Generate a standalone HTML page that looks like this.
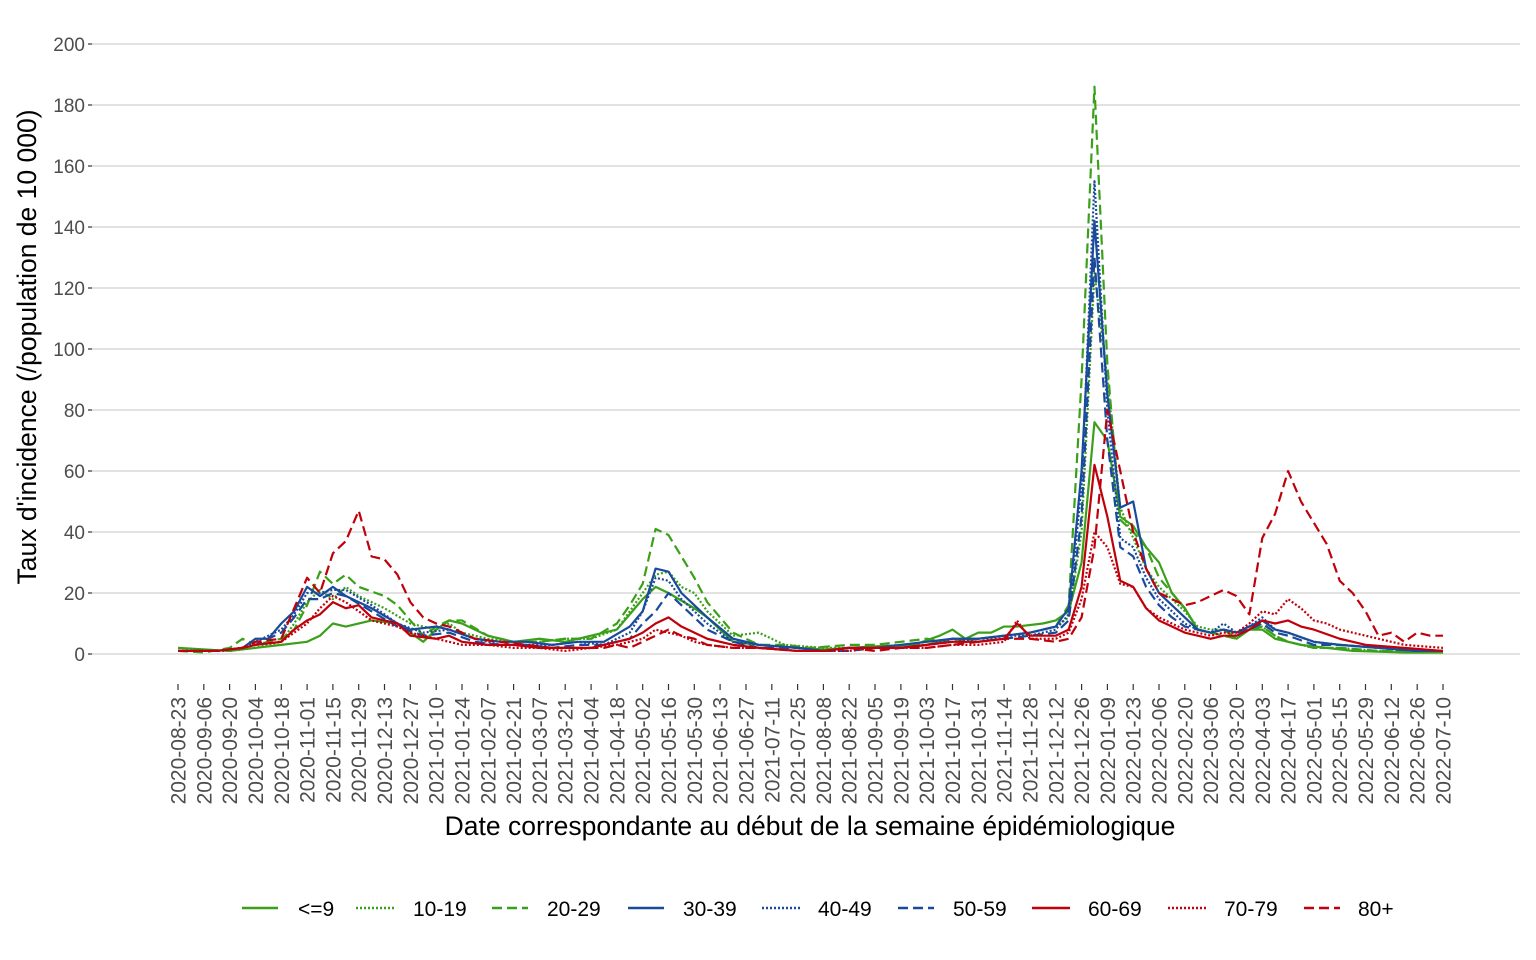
<!DOCTYPE html>
<html><head><meta charset="utf-8"><style>
html,body{margin:0;padding:0;background:#fff;}
svg{display:block;font-family:"Liberation Sans",Arial,sans-serif;}
</style></head><body>
<svg width="1536" height="960" viewBox="0 0 1536 960" xmlns="http://www.w3.org/2000/svg">
<g stroke="#d0d0d0" stroke-width="1.2">
<line x1="92" x2="1520" y1="654" y2="654"/><line x1="92" x2="1520" y1="593" y2="593"/>
<line x1="92" x2="1520" y1="532" y2="532"/><line x1="92" x2="1520" y1="471" y2="471"/>
<line x1="92" x2="1520" y1="410" y2="410"/><line x1="92" x2="1520" y1="349" y2="349"/>
<line x1="92" x2="1520" y1="288" y2="288"/><line x1="92" x2="1520" y1="227" y2="227"/>
<line x1="92" x2="1520" y1="166" y2="166"/><line x1="92" x2="1520" y1="105" y2="105"/>
<line x1="92" x2="1520" y1="44" y2="44"/>
</g>
<g fill="#4d4d4d" font-size="19" text-anchor="end">
<text x="85" y="661">0</text><text x="85" y="600">20</text><text x="85" y="539">40</text>
<text x="85" y="478">60</text><text x="85" y="417">80</text><text x="85" y="356">100</text>
<text x="85" y="295">120</text><text x="85" y="234">140</text><text x="85" y="173">160</text>
<text x="85" y="112">180</text><text x="85" y="51">200</text>
</g>
<g stroke="#333" stroke-width="1.2">
<line x1="88" x2="92" y1="654" y2="654"/><line x1="88" x2="92" y1="593" y2="593"/><line x1="88" x2="92" y1="532" y2="532"/><line x1="88" x2="92" y1="471" y2="471"/><line x1="88" x2="92" y1="410" y2="410"/><line x1="88" x2="92" y1="349" y2="349"/><line x1="88" x2="92" y1="288" y2="288"/><line x1="88" x2="92" y1="227" y2="227"/><line x1="88" x2="92" y1="166" y2="166"/><line x1="88" x2="92" y1="105" y2="105"/><line x1="88" x2="92" y1="44" y2="44"/>
</g>
<g transform="translate(178,0)" stroke="#333" stroke-width="1.2">
<path d="M0,684v6M25.8,684v6M51.6,684v6M77.4,684v6M103.3,684v6M129.1,684v6M154.9,684v6M180.7,684v6M206.5,684v6M232.3,684v6M258.2,684v6M284,684v6M309.8,684v6M335.6,684v6M361.4,684v6M387.2,684v6M413.1,684v6M438.9,684v6M464.7,684v6M490.5,684v6M516.3,684v6M542.1,684v6M568,684v6M593.8,684v6M619.6,684v6M645.4,684v6M671.2,684v6M697,684v6M722.9,684v6M748.7,684v6M774.5,684v6M800.3,684v6M826.1,684v6M851.9,684v6M877.8,684v6M903.6,684v6M929.4,684v6M955.2,684v6M981,684v6M1006.8,684v6M1032.6,684v6M1058.5,684v6M1084.3,684v6M1110.1,684v6M1135.9,684v6M1161.7,684v6M1187.5,684v6M1213.3,684v6M1239.2,684v6M1265,684v6"/>
</g>
<g fill="#4d4d4d" font-size="21" text-anchor="end">
<text transform="translate(185.5,697) rotate(-90)">2020-08-23</text>
<text transform="translate(211.3,697) rotate(-90)">2020-09-06</text>
<text transform="translate(237.1,697) rotate(-90)">2020-09-20</text>
<text transform="translate(262.9,697) rotate(-90)">2020-10-04</text>
<text transform="translate(288.8,697) rotate(-90)">2020-10-18</text>
<text transform="translate(314.6,697) rotate(-90)">2020-11-01</text>
<text transform="translate(340.4,697) rotate(-90)">2020-11-15</text>
<text transform="translate(366.2,697) rotate(-90)">2020-11-29</text>
<text transform="translate(392,697) rotate(-90)">2020-12-13</text>
<text transform="translate(417.8,697) rotate(-90)">2020-12-27</text>
<text transform="translate(443.7,697) rotate(-90)">2021-01-10</text>
<text transform="translate(469.5,697) rotate(-90)">2021-01-24</text>
<text transform="translate(495.3,697) rotate(-90)">2021-02-07</text>
<text transform="translate(521.1,697) rotate(-90)">2021-02-21</text>
<text transform="translate(546.9,697) rotate(-90)">2021-03-07</text>
<text transform="translate(572.7,697) rotate(-90)">2021-03-21</text>
<text transform="translate(598.6,697) rotate(-90)">2021-04-04</text>
<text transform="translate(624.4,697) rotate(-90)">2021-04-18</text>
<text transform="translate(650.2,697) rotate(-90)">2021-05-02</text>
<text transform="translate(676,697) rotate(-90)">2021-05-16</text>
<text transform="translate(701.8,697) rotate(-90)">2021-05-30</text>
<text transform="translate(727.6,697) rotate(-90)">2021-06-13</text>
<text transform="translate(753.5,697) rotate(-90)">2021-06-27</text>
<text transform="translate(779.3,697) rotate(-90)">2021-07-11</text>
<text transform="translate(805.1,697) rotate(-90)">2021-07-25</text>
<text transform="translate(830.9,697) rotate(-90)">2021-08-08</text>
<text transform="translate(856.7,697) rotate(-90)">2021-08-22</text>
<text transform="translate(882.5,697) rotate(-90)">2021-09-05</text>
<text transform="translate(908.4,697) rotate(-90)">2021-09-19</text>
<text transform="translate(934.2,697) rotate(-90)">2021-10-03</text>
<text transform="translate(960,697) rotate(-90)">2021-10-17</text>
<text transform="translate(985.8,697) rotate(-90)">2021-10-31</text>
<text transform="translate(1011.6,697) rotate(-90)">2021-11-14</text>
<text transform="translate(1037.4,697) rotate(-90)">2021-11-28</text>
<text transform="translate(1063.3,697) rotate(-90)">2021-12-12</text>
<text transform="translate(1089.1,697) rotate(-90)">2021-12-26</text>
<text transform="translate(1114.9,697) rotate(-90)">2022-01-09</text>
<text transform="translate(1140.7,697) rotate(-90)">2022-01-23</text>
<text transform="translate(1166.5,697) rotate(-90)">2022-02-06</text>
<text transform="translate(1192.3,697) rotate(-90)">2022-02-20</text>
<text transform="translate(1218.1,697) rotate(-90)">2022-03-06</text>
<text transform="translate(1244,697) rotate(-90)">2022-03-20</text>
<text transform="translate(1269.8,697) rotate(-90)">2022-04-03</text>
<text transform="translate(1295.6,697) rotate(-90)">2022-04-17</text>
<text transform="translate(1321.4,697) rotate(-90)">2022-05-01</text>
<text transform="translate(1347.2,697) rotate(-90)">2022-05-15</text>
<text transform="translate(1373,697) rotate(-90)">2022-05-29</text>
<text transform="translate(1398.8,697) rotate(-90)">2022-06-12</text>
<text transform="translate(1424.7,697) rotate(-90)">2022-06-26</text>
<text transform="translate(1450.5,697) rotate(-90)">2022-07-10</text>
</g>
<text x="810" y="835" font-size="26.5" text-anchor="middle" fill="#000">Date correspondante au début de la semaine épidémiologique</text>
<text transform="translate(36,347) rotate(-90)" font-size="26.5" text-anchor="middle" fill="#000">Taux d'incidence (/population de 10 000)</text>

<g transform="translate(178,654) scale(12.908,-3.05)" fill="none" stroke-width="2.2" stroke-linejoin="round">
<polyline stroke="#3aa019" vector-effect="non-scaling-stroke" points="0,2 4,1 8,3 10,4 11,6 12,10 13,9 15,11 17,10 19,4 20,8 21,11 22,10 24,6 26,4 28,5 30,4 32,6 34,8 36,18 37,22 38,20 40,15 41,12 43,4 45,3 48,2 50,1.5 52,2 54,2.5 57,3 59,6 60,8 61,5 62,7 63,7 64,9 65,9 67,10 68,11 69,14 70,30 71,76 72,70 73,45 74,42 75,35 76,30 77,20 78,15 79,8 80,7 81,8 82,5 83,8 84,8 85,5 86,4 87,3 89,2 91,1 95,0.5 98,0.5"/>
<polyline stroke="#3aa019" stroke-dasharray="2,2" vector-effect="non-scaling-stroke" points="0,1 4,1 6,2 8,4 9,10 10,17 11,21 12,18 13,22 14,19 16,15 18,10 20,8 21,10 22,7 24,5 26,4 28,4 30,5 32,5 34,8 35,14 36,20 37,26 38,27 39,22 40,20 41,14 43,6 45,7 47,3 50,2 53,2 56,3 58,3 60,5 62,5 64,6 66,7 68,9 69,12 70,40 71,125 72,90 73,48 74,38 75,28 76,22 77,18 78,14 79,9 80,8 81,8 82,6 83,8 84,9 85,6 86,4 88,2 90,2 93,1 98,0.5"/>
<polyline stroke="#3aa019" stroke-dasharray="10,5" vector-effect="non-scaling-stroke" points="0,1 2,0.5 4,2 5,5 6,3 8,5 9,8 10,16 11,27 12,23 13,26 14,22 16,19 17,16 19,6 20,9 21,11 22,11 24,6 26,4 28,4 30,5 32,5 34,10 35,16 36,23 37,41 38,39 39,32 40,25 41,17 43,7 45,3 47,3 49,2 52,3 54,3 56,4 58,5 60,4 62,5 64,6 66,7 68,9 69,16 70,90 71,186 72,95 73,44 74,40 75,35 76,25 77,20 78,15 79,8 80,7 81,6 82,5 83,8 84,9 85,6 86,4 88,2 90,2 93,1 98,0.5"/>
<polyline stroke="#1a4a9a" vector-effect="non-scaling-stroke" points="0,1 3,1 5,2 6,5 7,5 8,10 9,14 10,22 11,19 12,22 13,19 15,15 17,10 18,8 20,9 21,8 23,5 25,4 27,4 29,3 31,4 33,4 35,9 36,14 37,28 38,27 39,20 40,16 41,12 43,5 45,3 48,2 50,1 52,2 54,2 56,3 58,4 60,5 62,5 64,6 66,7 68,9 69,15 70,60 71,142 72,85 73,48 74,50 75,28 76,20 77,16 78,12 79,8 80,7 81,8 82,7 83,9 84,11 85,8 86,7 88,4 90,3 93,2 96,1 98,1"/>
<polyline stroke="#1a4a9a" stroke-dasharray="2,2" vector-effect="non-scaling-stroke" points="0,1 3,1 5,2 6,4 8,8 9,13 10,20 11,20 12,21 13,21 15,16 17,10 19,7 21,8 23,5 25,3 27,3 29,3 31,4 33,3 35,7 36,14 37,25 38,24 39,18 40,14 41,10 43,4 45,3 48,2 50,1 52,2 54,2 56,2 58,3 60,5 62,4 64,6 66,6 68,8 69,13 70,55 71,155 72,80 73,38 74,35 75,25 76,18 77,14 78,10 79,8 80,7 81,10 82,7 83,9 84,12 85,8 86,7 88,4 90,3 93,2 96,1 98,1"/>
<polyline stroke="#1a4a9a" stroke-dasharray="10,5" vector-effect="non-scaling-stroke" points="0,1 3,1 5,2 6,3 8,7 9,12 10,18 11,18 12,20 13,19 15,14 17,9 19,6 21,7 23,4 25,3 27,3 29,2 31,3 33,3 35,5 36,10 37,14 38,20 39,16 40,12 41,8 43,4 45,2 48,2 50,1 52,1 54,2 56,2 58,3 60,4 62,4 64,5 66,6 68,7 69,11 70,45 71,130 72,70 73,35 74,32 75,22 76,16 77,12 78,9 79,8 80,7 81,8 82,7 83,8 84,10 85,7 86,6 88,3 90,3 93,2 96,1 98,1"/>
<polyline stroke="#c0000b" vector-effect="non-scaling-stroke" points="0,1 3,1 5,2 6,3 8,4 9,8 10,11 11,13 12,17 13,15 14,16 15,12 17,10 18,6 20,5 21,6 22,4 24,3 26,3 28,2 30,2 32,2 34,4 35,5 36,7 37,10 38,12 39,9 40,7 41,5 43,3 45,2 48,1 50,1 52,2 54,2 56,2 58,3 60,4 62,4 64,5 65,10 66,6 68,6 69,8 70,22 71,62 72,45 73,24 74,22 75,15 76,11 77,9 78,7 79,6 80,5 81,6 82,6 83,8 84,11 85,10 86,11 87,9 88,8 90,5 92,3 95,2 98,1"/>
<polyline stroke="#c0000b" stroke-dasharray="2,2" vector-effect="non-scaling-stroke" points="0,1 3,1 5,2 6,3 8,4 9,7 10,10 11,15 12,19 13,17 15,11 17,9 18,7 20,5 21,4 22,3 24,3 26,2 28,2 30,1 32,2 34,3 35,4 36,5 37,8 38,7 39,6 40,4 41,3 43,2 45,2 48,1 50,1 52,1 54,2 56,2 58,2 60,3 62,3 64,4 65,11 66,5 68,5 69,7 70,18 71,40 72,35 73,23 74,22 75,15 76,12 77,10 78,8 79,7 80,6 81,7 82,7 83,10 84,14 85,13 86,18 87,15 88,11 89,10 90,8 92,6 95,3 98,2"/>
<polyline stroke="#c0000b" stroke-dasharray="10,5" vector-effect="non-scaling-stroke" points="0,1 3,1 5,2 6,4 8,5 9,15 10,25 11,20 12,33 13,37 14,47 15,32 16,31 17,26 18,17 19,12 20,10 21,9 22,7 23,5 25,4 27,3 29,2 31,2 33,2 34,3 35,2 36,4 37,6 38,8 39,6 40,5 41,3 43,2 45,2 48,1 50,1 52,2 54,1 56,2 58,2 60,3 62,4 64,5 66,5 68,4 69,5 70,12 71,35 72,80 73,60 74,40 75,28 76,20 77,18 78,16 79,17 80,19 81,21 82,19 83,13 84,38 85,46 86,60 87,50 88,43 89,36 90,24 91,20 92,14 93,6 94,7 95,4 96,7 97,6 98,6"/>
</g>

<g stroke-width="2.4" fill="none">
<line x1="242" x2="278" y1="908" y2="908" stroke="#3aa019"/>
<line x1="356" x2="394" y1="908" y2="908" stroke="#3aa019" stroke-dasharray="2,2"/>
<line x1="492" x2="528" y1="908" y2="908" stroke="#3aa019" stroke-dasharray="10,5"/>
<line x1="628" x2="664" y1="908" y2="908" stroke="#1a4a9a"/>
<line x1="762" x2="800" y1="908" y2="908" stroke="#1a4a9a" stroke-dasharray="2,2"/>
<line x1="898" x2="934" y1="908" y2="908" stroke="#1a4a9a" stroke-dasharray="10,5"/>
<line x1="1032" x2="1070" y1="908" y2="908" stroke="#c0000b"/>
<line x1="1168" x2="1206" y1="908" y2="908" stroke="#c0000b" stroke-dasharray="2,2"/>
<line x1="1304" x2="1340" y1="908" y2="908" stroke="#c0000b" stroke-dasharray="10,5"/>
</g>
<g font-size="21" fill="#000">
<text x="298" y="916">&lt;=9</text><text x="413" y="916">10-19</text><text x="547" y="916">20-29</text>
<text x="683" y="916">30-39</text><text x="818" y="916">40-49</text><text x="953" y="916">50-59</text>
<text x="1088" y="916">60-69</text><text x="1224" y="916">70-79</text><text x="1358" y="916">80+</text>
</g>
</svg>
</body></html>
